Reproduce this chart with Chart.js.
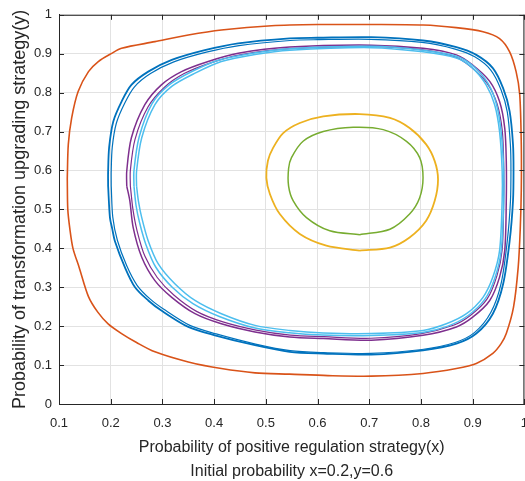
<!DOCTYPE html>
<html><head><meta charset="utf-8">
<script src="https://cdn.jsdelivr.net/npm/chart.js@4.4.0/dist/chart.umd.min.js"></script>
<style>
html,body{margin:0;padding:0;overflow:hidden;background:#fff;width:525px;height:481px}
#wrap{position:absolute;left:0;top:0;width:540px;height:481px}
</style></head>
<body><div id="wrap"><canvas id="c" width="540" height="481"></canvas></div>
<script>
// ---- data ----
const xTickLabels = ['0.1','0.2','0.3','0.4','0.5','0.6','0.7','0.8','0.9','1'];
const yTickLabels = ['0','0.1','0.2','0.3','0.4','0.5','0.6','0.7','0.8','0.9','1'];
const xTitle = 'Probability of positive regulation strategy(x)';
const subTitle = 'Initial probability x=0.2,y=0.6';
const yTitle = 'Probability of transformation upgrading strategy(y)';

const orangeOrbit = [[0.116,0.58],[0.117,0.50],[0.121,0.45],[0.127,0.40],[0.139,0.351],[0.157,0.276],[0.175,0.236],[0.195,0.206],[0.221,0.181],[0.25,0.158],[0.2855,0.134],[0.35,0.108],[0.414,0.091],[0.479,0.080],[0.546,0.0767],[0.62,0.073],[0.704,0.0716],[0.804,0.0785],[0.8685,0.091],[0.907,0.104],[0.939,0.13],[0.955,0.155],[0.965,0.181],[0.979,0.249],[0.988,0.351],[0.992,0.45],[0.994,0.55],[0.994,0.667],[0.991,0.795],[0.984,0.854],[0.9715,0.905],[0.952,0.939],[0.92,0.9565],[0.868,0.967],[0.804,0.9736],[0.7,0.975],[0.6,0.975],[0.511,0.972],[0.414,0.961],[0.35,0.948],[0.2855,0.931],[0.221,0.914],[0.202,0.901],[0.176,0.88],[0.157,0.854],[0.137,0.803],[0.1245,0.735],[0.118,0.667],[0.116,0.58]];

const blueOrbitA = [[0.195,0.56],[0.1985,0.479],[0.203,0.45],[0.208,0.419],[0.2275,0.351],[0.247,0.30],[0.2726,0.266],[0.298,0.24],[0.35,0.198],[0.4015,0.1765],[0.479,0.151],[0.546,0.134],[0.611,0.1296],[0.704,0.127],[0.804,0.138],[0.8685,0.155],[0.907,0.181],[0.939,0.232],[0.959,0.309],[0.9715,0.419],[0.978,0.522],[0.979,0.60],[0.978,0.667],[0.9715,0.752],[0.959,0.811],[0.939,0.863],[0.907,0.897],[0.8685,0.917],[0.804,0.934],[0.704,0.9425],[0.6,0.941],[0.546,0.9394],[0.4465,0.9266],[0.382,0.909],[0.318,0.884],[0.2726,0.854],[0.24,0.82],[0.221,0.777],[0.205,0.726],[0.197,0.66],[0.195,0.598],[0.195,0.56]];
const blueOrbitB = [[0.201,0.56],[0.204,0.48],[0.213,0.42],[0.231,0.355],[0.251,0.305],[0.276,0.27],[0.302,0.244],[0.353,0.202],[0.404,0.18],[0.48,0.154],[0.547,0.137],[0.612,0.132],[0.703,0.13],[0.802,0.14],[0.866,0.158],[0.904,0.184],[0.935,0.235],[0.955,0.31],[0.967,0.42],[0.973,0.52],[0.974,0.60],[0.973,0.665],[0.967,0.75],[0.955,0.807],[0.935,0.858],[0.904,0.892],[0.866,0.912],[0.802,0.929],[0.703,0.937],[0.6,0.936],[0.547,0.934],[0.448,0.921],[0.385,0.904],[0.322,0.879],[0.277,0.849],[0.246,0.815],[0.227,0.773],[0.211,0.722],[0.203,0.66],[0.201,0.60],[0.201,0.56]];

const purpleOrbitA = [[0.231,0.56],[0.237,0.522],[0.2435,0.453],[0.26,0.377],[0.2855,0.317],[0.318,0.274],[0.363,0.232],[0.414,0.206],[0.479,0.185],[0.546,0.172],[0.611,0.168],[0.704,0.1637],[0.804,0.1765],[0.8685,0.198],[0.90,0.223],[0.933,0.266],[0.952,0.326],[0.962,0.394],[0.965,0.522],[0.965,0.624],[0.962,0.709],[0.952,0.777],[0.933,0.829],[0.90,0.871],[0.8685,0.897],[0.804,0.914],[0.704,0.922],[0.546,0.917],[0.4465,0.901],[0.3885,0.88],[0.337,0.854],[0.298,0.82],[0.266,0.769],[0.24,0.684],[0.231,0.598],[0.231,0.56]];
const purpleOrbitB = [[0.238,0.56],[0.243,0.50],[0.251,0.445],[0.266,0.38],[0.29,0.325],[0.322,0.28],[0.366,0.238],[0.417,0.211],[0.481,0.19],[0.547,0.177],[0.612,0.173],[0.703,0.169],[0.801,0.181],[0.864,0.203],[0.896,0.228],[0.928,0.27],[0.947,0.33],[0.957,0.396],[0.96,0.52],[0.96,0.62],[0.957,0.705],[0.947,0.772],[0.928,0.824],[0.897,0.866],[0.866,0.892],[0.803,0.91],[0.704,0.918],[0.547,0.913],[0.45,0.897],[0.392,0.876],[0.342,0.849],[0.304,0.814],[0.272,0.763],[0.247,0.68],[0.238,0.60],[0.238,0.56]];

const lightBlueOrbitA = [[0.25,0.56],[0.2535,0.522],[0.26,0.479],[0.2726,0.419],[0.292,0.36],[0.324,0.309],[0.363,0.266],[0.414,0.232],[0.479,0.202],[0.546,0.189],[0.611,0.1825],[0.704,0.181],[0.804,0.189],[0.849,0.206],[0.888,0.232],[0.92,0.274],[0.939,0.326],[0.952,0.394],[0.957,0.522],[0.957,0.60],[0.952,0.70],[0.9425,0.769],[0.926,0.82],[0.90,0.863],[0.8685,0.889],[0.804,0.905],[0.704,0.9156],[0.546,0.909],[0.479,0.898],[0.414,0.88],[0.363,0.85],[0.318,0.816],[0.2855,0.769],[0.26,0.684],[0.25,0.598],[0.25,0.56]];
const lightBlueOrbitB = [[0.245,0.56],[0.249,0.51],[0.256,0.465],[0.268,0.41],[0.287,0.352],[0.319,0.3],[0.359,0.258],[0.41,0.225],[0.477,0.196],[0.545,0.183],[0.61,0.177],[0.703,0.176],[0.803,0.184],[0.852,0.2],[0.892,0.228],[0.924,0.27],[0.943,0.324],[0.955,0.392],[0.96,0.52],[0.96,0.6],[0.955,0.7],[0.946,0.77],[0.93,0.823],[0.903,0.866],[0.87,0.893],[0.804,0.909],[0.704,0.919],[0.546,0.913],[0.477,0.902],[0.41,0.884],[0.358,0.855],[0.313,0.82],[0.28,0.772],[0.255,0.686],[0.245,0.60],[0.245,0.56]];

const yellowOrbit = [[0.6816,0.394],[0.617,0.407],[0.5657,0.437],[0.527,0.488],[0.508,0.539],[0.501,0.581],[0.504,0.625],[0.514,0.658],[0.5335,0.696],[0.5657,0.722],[0.611,0.739],[0.6816,0.745],[0.74,0.735],[0.778,0.709],[0.81,0.667],[0.8266,0.624],[0.833,0.577],[0.8266,0.522],[0.81,0.471],[0.778,0.428],[0.74,0.402],[0.6816,0.394]];
const greenOrbit = [[0.6816,0.435],[0.6236,0.445],[0.5786,0.479],[0.553,0.522],[0.544,0.56],[0.544,0.605],[0.5496,0.633],[0.572,0.675],[0.611,0.70],[0.669,0.711],[0.727,0.705],[0.772,0.675],[0.7975,0.633],[0.804,0.581],[0.7975,0.53],[0.778,0.488],[0.74,0.449],[0.6816,0.435]];

// ---- chart ----
const toPts = arr => arr.map(p => ({x: p[0], y: p[1]}));
const ds = (arr, color, w) => ({data: toPts(arr), borderColor: color, borderWidth: w, showLine: true, pointRadius: 0, tension: 0.3, fill: false});

const TXT = '#262626';
const FONT = 'Liberation Sans, Arial, sans-serif';
const boxPlugin = {
  id: 'box',
  afterDraw(chart) {
    const {ctx, chartArea: a, scales: {x, y}} = chart;
    ctx.save();
    ctx.strokeStyle = TXT; ctx.lineWidth = 1;
    ctx.beginPath();
    ctx.moveTo(a.left, a.top + 0.5); ctx.lineTo(a.right, a.top + 0.5);
    ctx.moveTo(a.right - 0.5, a.top); ctx.lineTo(a.right - 0.5, a.bottom);
    x.ticks.forEach(t => {
      const px = Math.round(x.getPixelForValue(t.value)) + 0.5;
      ctx.moveTo(px, a.bottom); ctx.lineTo(px, a.bottom - 5);
      ctx.moveTo(px, a.top); ctx.lineTo(px, a.top + 5);
    });
    y.ticks.forEach(t => {
      const py = Math.round(y.getPixelForValue(t.value)) + 0.5;
      ctx.moveTo(a.left, py); ctx.lineTo(a.left + 5, py);
      ctx.moveTo(a.right, py); ctx.lineTo(a.right - 5, py);
    });
    ctx.stroke();
    ctx.restore();
  }
};

new Chart(document.getElementById('c'), {
  type: 'scatter',
  data: {
    datasets: [
      ds(lightBlueOrbitA, '#4DBEEE', 1.5),
      ds(lightBlueOrbitB, '#4DBEEE', 1.5),
      ds(greenOrbit, '#77AC30', 1.5),
      ds(purpleOrbitA, '#7E2F8E', 1.5),
      ds(purpleOrbitB, '#7E2F8E', 1.2),
      ds(yellowOrbit, '#EDB120', 1.8),
      ds(orangeOrbit, '#D95319', 1.6),
      ds(blueOrbitA, '#0072BD', 1.8),
      ds(blueOrbitB, '#0072BD', 1.2)
    ]
  },
  options: {
    responsive: false,
    animation: false,
    layout: {padding: {top: 5, right: 0, left: 0, bottom: 0}},
    plugins: {legend: {display: false}, tooltip: {enabled: false}},
    scales: {
      x: {
        type: 'linear', min: 0.1, max: 1,
        afterFit: s => { s.height = 77; },
        ticks: {stepSize: 0.1, padding: 12, color: TXT, font: {family: FONT, size: 13},
          callback: (v, i) => xTickLabels[i]},
        grid: {color: '#e2e2e2', drawTicks: false},
        border: {color: TXT, width: 1},
        title: {display: true, text: [xTitle, subTitle], color: TXT,
          font: {family: FONT, size: 16, lineHeight: 1.5}, padding: {top: 0, bottom: -3}}
      },
      y: {
        type: 'linear', min: 0, max: 1,
        afterFit: s => { s.width = 59; },
        ticks: {stepSize: 0.1, padding: 7, color: TXT, font: {family: FONT, size: 13},
          callback: (v, i) => yTickLabels[i]},
        grid: {color: '#e2e2e2', drawTicks: false},
        border: {color: TXT, width: 1},
        title: {display: true, text: yTitle, color: TXT,
          font: {family: FONT, size: 18, lineHeight: 1.2}, padding: {top: 9, bottom: 0}}
      }
    }
  },
  plugins: [boxPlugin]
});
</script></body></html>
